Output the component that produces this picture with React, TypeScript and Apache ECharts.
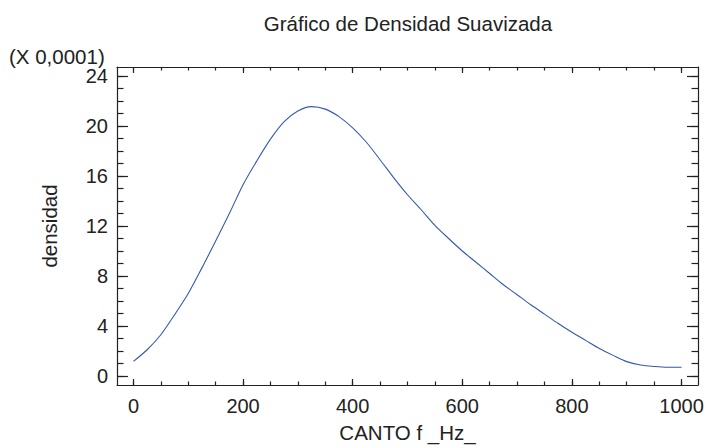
import React, { useEffect, useRef } from "react";
import * as echarts from "echarts";

const xValues = [0, 25, 50, 75, 100, 125, 150, 175, 200, 225, 250, 275, 300, 325, 350, 375, 400, 425, 450, 475, 500, 525, 550, 575, 600, 625, 650, 675, 700, 725, 750, 775, 800, 825, 850, 875, 900, 925, 950, 975, 1000];
const densityValues = [1.17, 2.1, 3.3, 4.9, 6.6, 8.65, 10.8, 13.0, 15.3, 17.2, 18.95, 20.35, 21.2, 21.55, 21.35, 20.75, 19.85, 18.7, 17.3, 15.85, 14.5, 13.3, 12.05, 11.0, 10.0, 9.1, 8.2, 7.3, 6.5, 5.7, 4.95, 4.2, 3.5, 2.85, 2.2, 1.65, 1.15, 0.88, 0.76, 0.7, 0.7];

const xMajorTicks = [0, 200, 400, 600, 800, 1000];
const xMinorTicks = [0, 50, 100, 150, 200, 250, 300, 350, 400, 450, 500, 550, 600, 650, 700, 750, 800, 850, 900, 950, 1000];
const yMajorTicks = [0, 4, 8, 12, 16, 20, 24];
const yMinorTicks = Array.from({ length: 25 }, (_, i) => i);

const titleText = "Gráfico de Densidad Suavizada";
const scaleText = "(X 0,0001)";
const xName = "CANTO f _Hz_";
const yName = "densidad";

const FONT = "'Liberation Sans', Arial, Helvetica, sans-serif";
const TEXT_COLOR = "#222";
const AXIS_COLOR = "#222";

export default function App() {
  const ref = useRef<HTMLDivElement>(null);
  useEffect(() => {
    if (!ref.current) return;
    const chart = echarts.init(ref.current, undefined, { renderer: "svg" });
    const xRange = { min: -30, max: 1030 };
    const yRange = { min: -0.72, max: 24.72 };
    const lineStyle = { color: AXIS_COLOR, width: 1.2 };
    const plain = (v: number) => String(v);
    const mkX = (position: string, ticks: number[], len: number, showLine: boolean, labels: boolean, extra: any = {}) => ({
      type: "value",
      position,
      ...xRange,
      splitLine: { show: false },
      axisLine: { show: showLine, onZero: false, lineStyle },
      axisTick: { show: true, inside: true, length: len, customValues: ticks, lineStyle },
      axisLabel: labels
        ? { show: true, customValues: xMajorTicks, formatter: plain, margin: 11, fontSize: 20, color: TEXT_COLOR, fontFamily: FONT }
        : { show: false },
      ...extra,
    });
    const mkY = (position: string, ticks: number[], len: number, showLine: boolean, labels: boolean, extra: any = {}) => ({
      type: "value",
      position,
      ...yRange,
      splitLine: { show: false },
      axisLine: { show: showLine, onZero: false, lineStyle },
      axisTick: { show: true, inside: true, length: len, customValues: ticks, lineStyle },
      axisLabel: labels
        ? { show: true, customValues: yMajorTicks, formatter: plain, margin: 9, fontSize: 20, color: TEXT_COLOR, fontFamily: FONT }
        : { show: false },
      ...extra,
    });
    chart.setOption({
      animation: false,
      backgroundColor: "#fff",
      grid: { left: 117, right: 9, top: 67, bottom: 62, containLabel: false },
      xAxis: [
        mkX("bottom", xMajorTicks, 6, true, true, {
          name: xName,
          nameLocation: "middle",
          nameGap: 37,
          nameTextStyle: { fontSize: 20.5, color: TEXT_COLOR, fontFamily: FONT },
        }),
        mkX("bottom", xMinorTicks, 3.5, false, false),
        mkX("top", xMajorTicks, 6, true, false),
        mkX("top", xMinorTicks, 3.5, false, false),
      ],
      yAxis: [
        mkY("left", yMajorTicks, 11, true, true, {
          name: yName,
          nameLocation: "middle",
          nameGap: 57,
          nameTextStyle: { fontSize: 20.5, color: TEXT_COLOR, fontFamily: FONT },
        }),
        mkY("left", yMinorTicks, 6.5, false, false),
        mkY("right", yMajorTicks, 11, true, false),
        mkY("right", yMinorTicks, 6.5, false, false),
      ],
      graphic: [
        {
          type: "text",
          x: 408,
          y: 23,
          style: {
            text: titleText,
            fontSize: 20.5,
            fontFamily: FONT,
            fill: TEXT_COLOR,
            textAlign: "center",
            textVerticalAlign: "middle",
          },
        },
        {
          type: "text",
          x: 9,
          y: 56,
          style: {
            text: scaleText,
            fontSize: 20.5,
            fontFamily: FONT,
            fill: TEXT_COLOR,
            textAlign: "left",
            textVerticalAlign: "middle",
          },
        },
      ],
      series: [
        {
          type: "line",
          xAxisIndex: 0,
          yAxisIndex: 0,
          data: xValues.map((x, i) => [x, densityValues[i]]),
          showSymbol: false,
          smooth: 0.3,
          lineStyle: { color: "#3558b0", width: 1.1 },
          itemStyle: { color: "#3558b0" },
        },
      ],
    });
    return () => chart.dispose();
  }, []);
  return (
    <div
      ref={ref}
      style={{ position: "absolute", left: 0, top: 0, width: 707, height: 448, background: "#fff" }}
    />
  );
}
